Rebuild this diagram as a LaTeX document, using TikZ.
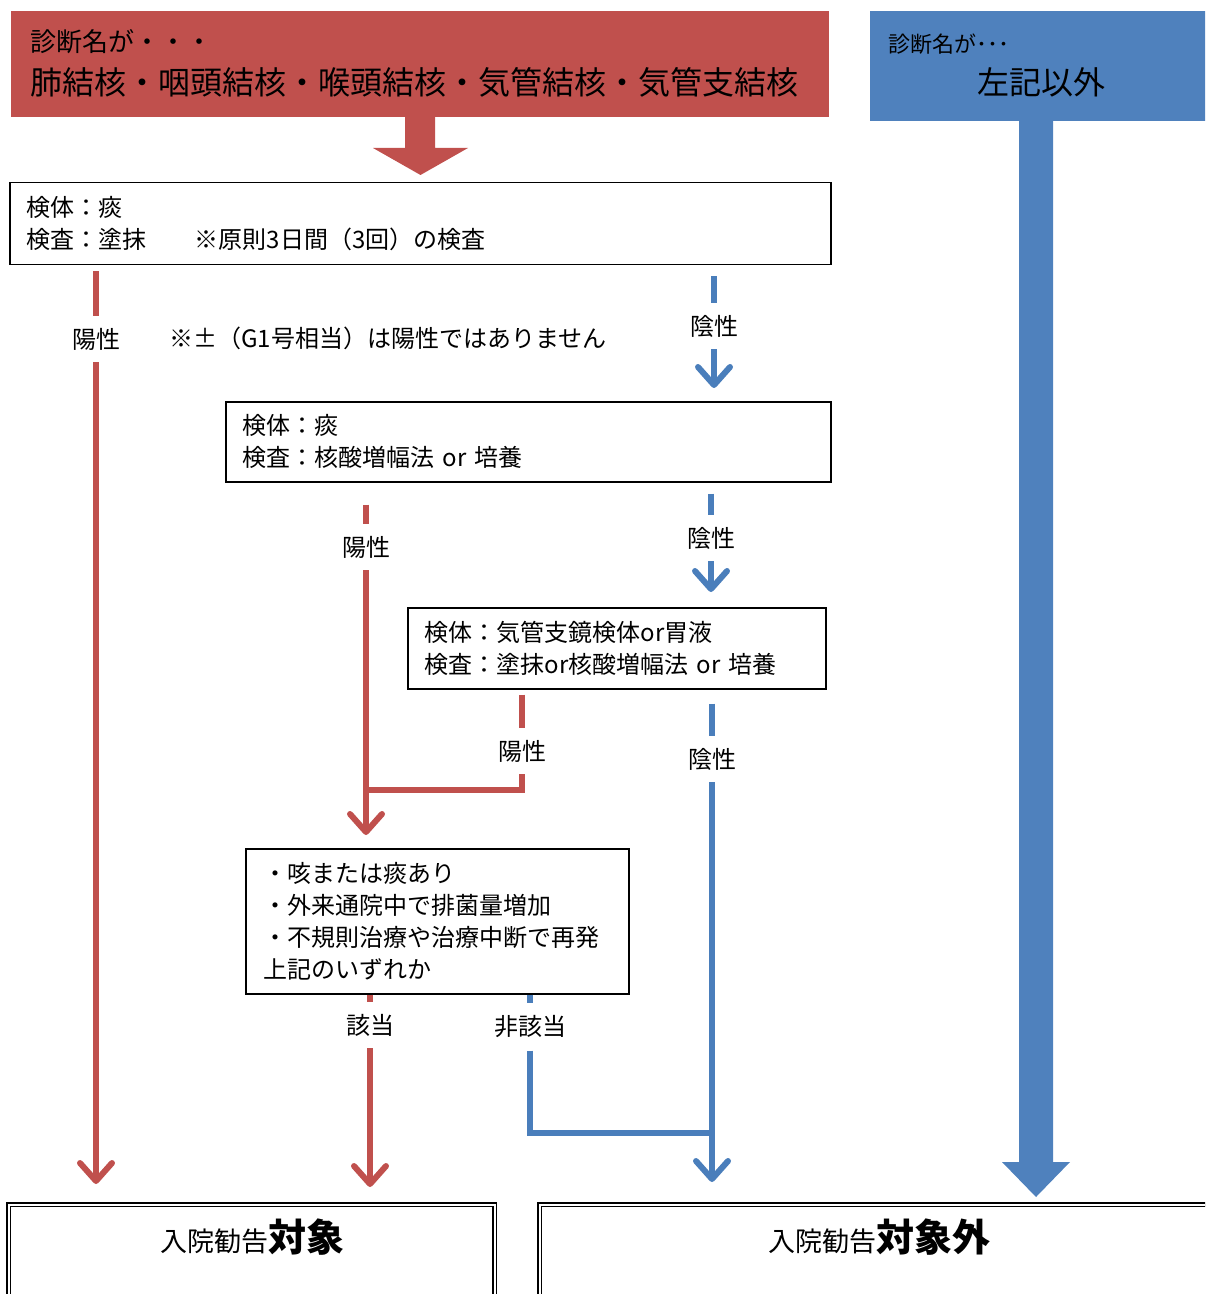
\documentclass[tikz,border=0pt]{standalone}
\usepackage{fontspec}
\setmainfont{Noto Sans CJK JP}
\usepackage{tikz}
\usetikzlibrary{arrows.meta}
\usepackage{xcolor}
\definecolor{hdrred}{HTML}{C0504D}
\definecolor{hdrblue}{HTML}{4F81BD}
\definecolor{lnblue}{HTML}{4A7EBB}
\tikzset{
  box/.style={draw, line width=0.75pt, anchor=north west, align=left, inner xsep=8.5pt, inner ysep=0pt, font=\fontsize{12pt}{16pt}\selectfont},
  lbl/.style={inner xsep=0pt, inner ysep=6pt, font=\fontsize{12pt}{14pt}\selectfont},
  redln/.style={hdrred, line width=3pt},
  blueln/.style={lnblue, line width=3pt},
  tip/.style={-{Straight Barb[length=9pt,width=16pt,round]}},
  result/.style={draw, line width=0.6pt, double, double distance=1pt, anchor=north west, inner sep=0pt}
}

\begin{document}
\begin{tikzpicture}[x=0.5pt, y=-0.5pt]
    \useasboundingbox (0,0) rectangle (1205,1294);
    \clip (0,0) rectangle (1205,1294);

    % Headers
    \node[fill=hdrred, minimum width=409pt, minimum height=53pt, anchor=north west, inner sep=0pt] (hdrRed) at (11,11) {};
    \node[anchor=west, inner sep=0pt, font=\fontsize{13pt}{13pt}\selectfont] (hdrRedA) at (30,42) {診断名が・・・};
    \node[anchor=west, inner sep=0pt, font=\fontsize{16pt}{16pt}\selectfont] (hdrRedB) at (30,82) {肺結核・咽頭結核・喉頭結核・気管結核・気管支結核};
    \node[fill=hdrblue, minimum width=175pt, minimum height=55pt, anchor=north west, inner sep=0pt] (hdrBlue) at (870,11) {};
    \node[anchor=west, inner sep=0pt, font=\fontsize{11pt}{11pt}\selectfont] (hdrBlueA) at (888,44) {診断名が･･･};
    \node[inner sep=0pt, font=\fontsize{16pt}{16pt}\selectfont] (hdrBlueB) at (1041,82) {左記以外};

    % Block arrows
    \fill[hdrred] (405,117) -- (435,117) -- (435,148) -- (468,148) -- (420.5,175) -- (373,148) -- (405,148) -- cycle;
    \fill[hdrblue] (1019,121) -- (1053,121) -- (1053,1162) -- (1070,1162) -- (1036,1197) -- (1002,1162) -- (1019,1162) -- cycle;

    % Test boxes
    \node[box, text width=393.5pt, minimum height=41pt] (box1) at (9,182) {検体：痰\\検査：塗抹\hspace{2em}※原則3日間（3回）の検査};
    \node[box, text width=285.5pt, minimum height=40pt] (box2) at (225,401) {検体：痰\\検査：核酸増幅法 or 培養};
    \node[box, text width=192pt, minimum height=40.5pt] (box3) at (407,607) {検体：気管支鏡検体or胃液\\検査：塗抹or核酸増幅法 or 培養};
    \node[box, text width=173.5pt, inner xsep=9pt, minimum height=72.5pt] (box4) at (245,848) {・咳または痰あり\\・外来通院中で排菌量増加\\・不規則治療や治療中断で再発\\上記のいずれか};

    % Results
    \node[result, minimum width=243pt, minimum height=70pt] (resIn) at (8,1204) {};
    \node[result, minimum width=350pt, minimum height=70pt] (resOut) at (539,1204) {};
    \node[inner sep=0pt] (resInTxt) at (252,1237) {{\fontsize{13.5pt}{14pt}\selectfont 入院勧告}{\fontsize{19pt}{20pt}\selectfont\bfseries 対象}};
    \node[inner sep=0pt] (resOutTxt) at (879,1237) {{\fontsize{13.5pt}{14pt}\selectfont 入院勧告}{\fontsize{19pt}{20pt}\selectfont\bfseries 対象外}};

    % Labels
    \node[lbl] (pos1) at (96,339) {陽性};
    \node[font=\fontsize{12pt}{14pt}\selectfont, inner sep=0pt] (note1) at (388,338) {※±（G1号相当）は陽性ではありません};
    \node[lbl] (neg1) at (714,326) {陰性};
    \node[lbl] (pos2) at (366,547) {陽性};
    \node[lbl] (neg2) at (711,538) {陰性};
    \node[lbl] (pos3) at (522,751) {陽性};
    \node[lbl] (neg3) at (712,759) {陰性};
    \node[lbl] (yes4) at (370,1025) {該当};
    \node[lbl] (no4) at (530,1027) {非該当};
    \coordinate (join3) at (366,790);
    \coordinate (join4) at (712,1133);

    % Connectors
    \draw[redln, shorten <=3pt] (box1.south -| pos1) -- (pos1.north);
    \draw[redln, tip, shorten >=10pt] (pos1.south) -- (resIn.north -| pos1);
    \draw[blueln, shorten <=5.5pt] (box1.south -| neg1) -- (neg1.north);
    \draw[blueln, tip, shorten >=6.5pt] (neg1.south) -- (box2.north -| neg1);
    \draw[redln, shorten <=11pt] (box2.south -| pos2) -- (pos2.north);
    \draw[redln, tip, shorten >=6.5pt] (pos2.south) -- (box4.north -| pos2);
    \draw[blueln, shorten <=5.5pt] (box2.south -| neg2) -- (neg2.north);
    \draw[blueln, tip, shorten >=7.5pt] (neg2.south) -- (box3.north -| neg2);
    \draw[redln, shorten <=2.5pt] (box3.south -| pos3) -- (pos3.north);
    \draw[redln] (pos3.south) |- (join3);
    \draw[blueln, shorten <=7pt] (box3.south -| neg3) -- (neg3.north);
    \draw[blueln, tip, shorten >=11pt] (neg3.south) -- (resOut.north -| neg3);
    \draw[redln] (box4.south -| yes4) -- (yes4.north);
    \draw[redln, tip, shorten >=8.5pt] (yes4.south) -- (resIn.north -| yes4);
    \draw[blueln] (box4.south -| no4) -- (no4.north);
    \draw[blueln] (no4.south) |- (join4);
\end{tikzpicture}
\end{document}
